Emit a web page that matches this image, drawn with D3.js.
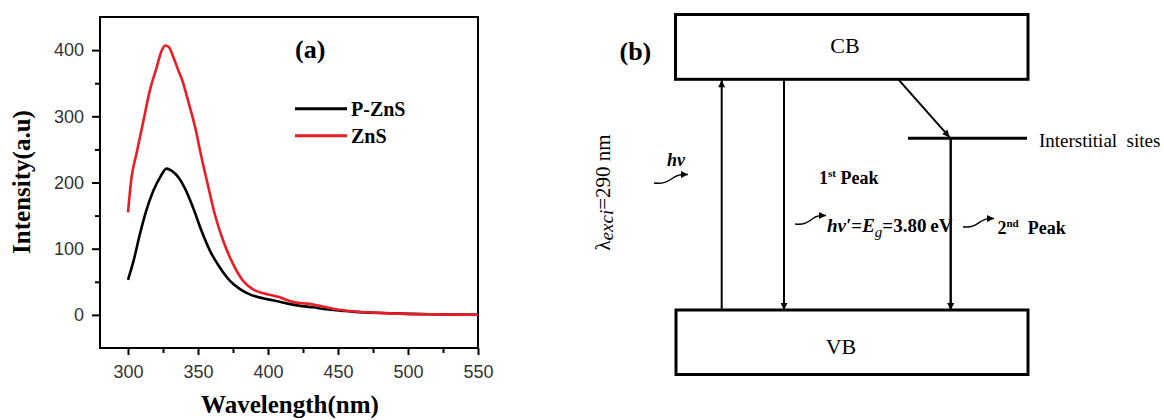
<!DOCTYPE html>
<html>
<head>
<meta charset="utf-8">
<script src="https://cdn.jsdelivr.net/npm/d3@7/dist/d3.min.js"></script>
<style>
  html, body { margin: 0; padding: 0; background: #fff; }
  svg { display: block; }
</style>
</head>
<body>
<svg id="fig" width="1164" height="420"></svg>
<script>
// ---- Photoluminescence spectra (panel a) ----
const wavelengthZnS = [300, 302.5, 306, 311, 315.5, 320.5, 324, 326.5, 329, 332.5, 336, 338.5, 343, 348, 352.5, 357.5, 362, 368, 375, 382, 389, 396, 402, 408, 414, 420, 428, 436, 444, 452, 460, 470, 480, 490, 500, 510, 520, 530, 540, 550];
const intensityZnS  = [155, 207, 243, 293, 338, 374, 399, 407, 405, 389, 369, 356, 323, 283, 238, 192, 152, 112, 77, 52, 39, 33, 30, 27, 22, 18.5, 17, 14, 10.5, 7.5, 5.5, 4, 3, 2, 1.5, 1, 0.8, 0.5, 0.3, 0.2];

const wavelengthPZnS = [300, 304, 308.5, 313, 318, 323, 327.5, 331, 336, 340.5, 346.5, 352.5, 358.5, 365.5, 373, 380, 387, 396.5, 406, 414, 422, 432, 442, 452, 462, 472, 485, 500, 515, 530, 550];
const intensityPZnS  = [53, 82, 122, 157, 187, 208, 221, 218, 208, 192, 162, 127, 97, 72, 51, 39, 31, 25, 21, 17, 14, 11.5, 8.5, 6.5, 4.5, 3.5, 2.5, 1.5, 1, 0.5, 0.2];

const xTicks = [300, 350, 400, 450, 500, 550];
const xMinorTicks = [325, 375, 425, 475, 525];
const yTicks = [0, 100, 200, 300, 400];
const yMinorTicks = [50, 150, 250, 350];

const seriesNames = ["P-ZnS", "ZnS"];
const seriesColors = ["#000000", "#ec1c24"];

// ---- Band diagram labels (panel b) ----
const bandLabels = ["CB", "VB"];
const defectLabel = "Interstitial\u00a0 sites";

const svg = d3.select("#fig");
svg.append("rect").attr("width", 1164).attr("height", 420).attr("fill", "#fff");

// arrowhead marker
const defs = svg.append("defs");
defs.append("marker")
  .attr("id", "head")
  .attr("viewBox", "0 0 10 10")
  .attr("refX", 10).attr("refY", 5)
  .attr("markerWidth", 9).attr("markerHeight", 7)
  .attr("markerUnits", "userSpaceOnUse")
  .attr("orient", "auto")
  .append("path").attr("d", "M0,0 L10,5 L0,10 Z").attr("fill", "#000");

// ================= Panel (a) =================
const x = d3.scaleLinear().domain([280, 550]).range([100, 478]);
const y = d3.scaleLinear().domain([-50, 450]).range([348, 17]);

const pa = svg.append("g");

const tickFont = "'Liberation Sans', Arial, sans-serif";
const serif = "'Liberation Serif', 'Times New Roman', serif";

const xAxis = pa.append("g").attr("transform", `translate(0,${y(-50)})`)
  .call(d3.axisBottom(x).tickValues(xTicks).tickSize(7).tickPadding(10).tickFormat(d3.format("d")));
const xMinor = pa.append("g").attr("transform", `translate(0,${y(-50)})`)
  .call(d3.axisBottom(x).tickValues(xMinorTicks).tickSize(5).tickFormat(""));
const yAxis = pa.append("g").attr("transform", `translate(${x(280)},0)`)
  .call(d3.axisLeft(y).tickValues(yTicks).tickSize(8).tickPadding(8).tickFormat(d3.format("d")));
const yMinor = pa.append("g").attr("transform", `translate(${x(280)},0)`)
  .call(d3.axisLeft(y).tickValues(yMinorTicks).tickSize(5).tickFormat(""));

[xAxis, xMinor, yAxis, yMinor].forEach(g => {
  g.select(".domain").remove();
  g.selectAll(".tick line").attr("stroke", "#000").attr("stroke-width", 2);
  g.selectAll(".tick text").attr("font-family", tickFont).attr("font-size", 18).attr("fill", "#333");
});

// frame
pa.append("rect")
  .attr("x", x(280)).attr("y", y(450))
  .attr("width", x(550) - x(280)).attr("height", y(-50) - y(450))
  .attr("fill", "none").attr("stroke", "#000").attr("stroke-width", 2);

// curves
const line = d3.line().x(d => x(d[0])).y(d => y(d[1])).curve(d3.curveMonotoneX);
const series = [
  d3.zip(wavelengthPZnS, intensityPZnS),
  d3.zip(wavelengthZnS, intensityZnS)
];
series.forEach((s, i) => {
  pa.append("path").datum(s)
    .attr("d", line)
    .attr("fill", "none")
    .attr("stroke", seriesColors[i])
    .attr("stroke-width", 2.6)
    .attr("stroke-linejoin", "round");
});

// legend
seriesNames.forEach((name, i) => {
  const ly = 108.7 + i * 27;
  pa.append("line").attr("x1", 295).attr("x2", 347).attr("y1", ly).attr("y2", ly)
    .attr("stroke", seriesColors[i]).attr("stroke-width", 3);
  pa.append("text").attr("x", 351).attr("y", ly + 7.5)
    .attr("font-family", serif).attr("font-weight", "bold").attr("font-size", 20)
    .text(name);
});

// panel tag and axis titles
pa.append("text").attr("x", 295).attr("y", 58)
  .attr("font-family", serif).attr("font-weight", "bold").attr("font-size", 26).text("(a)");
pa.append("text").attr("x", 290).attr("y", 413).attr("text-anchor", "middle")
  .attr("font-family", serif).attr("font-weight", "bold").attr("font-size", 25).text("Wavelength(nm)");
pa.append("text").attr("transform", "translate(30,182) rotate(-90)").attr("text-anchor", "middle")
  .attr("font-family", serif).attr("font-weight", "bold").attr("font-size", 25).text("Intensity(a.u)");

// ================= Panel (b) =================
const pb = svg.append("g").attr("font-family", serif);

// energy axis of the diagram (CB bottom edge, interstitial level, VB top edge)
const ey = d3.scaleLinear().domain([0, 1]).range([310, 79.3]);
const bandEdges = { cb: 1, defect: 0.745, vb: 0 };

// bands
pb.append("rect").attr("x", 675.5).attr("y", 14.5).attr("width", 352.5).attr("height", ey(bandEdges.cb) - 14.5)
  .attr("fill", "none").attr("stroke", "#000").attr("stroke-width", 3);
pb.append("rect").attr("x", 676).attr("y", ey(bandEdges.vb)).attr("width", 352).attr("height", 374.5 - ey(bandEdges.vb))
  .attr("fill", "none").attr("stroke", "#000").attr("stroke-width", 3);
pb.append("text").attr("x", 845).attr("y", 53.3).attr("text-anchor", "middle").attr("font-size", 22).text(bandLabels[0]);
pb.append("text").attr("x", 841).attr("y", 354).attr("text-anchor", "middle").attr("font-size", 22).text(bandLabels[1]);

// interstitial level
pb.append("line").attr("x1", 908).attr("x2", 1027).attr("y1", ey(bandEdges.defect)).attr("y2", ey(bandEdges.defect))
  .attr("stroke", "#000").attr("stroke-width", 3);
pb.append("text").attr("x", 1039).attr("y", 146.7).attr("font-size", 19).text(defectLabel);

// transitions
const arrow = (x1, y1, x2, y2, w) => pb.append("line")
  .attr("x1", x1).attr("y1", y1).attr("x2", x2).attr("y2", y2)
  .attr("stroke", "#000").attr("stroke-width", w).attr("marker-end", "url(#head)");
arrow(721.7, ey(bandEdges.vb), 721.7, ey(bandEdges.cb) + 1, 2);       // excitation
arrow(784, ey(bandEdges.cb), 784, ey(bandEdges.vb), 2);               // band-edge emission
arrow(898.3, ey(bandEdges.cb), 949.5, ey(bandEdges.defect) - 1, 2);   // relaxation to interstitial sites
arrow(950.7, ey(bandEdges.defect), 950.7, ey(bandEdges.vb), 2.4);     // defect emission

// photon squiggles
const squiggle = (x0, y0, x1, y1) => {
  const dx = x1 - x0, dy = y1 - y0;
  pb.append("path")
    .attr("d", `M${x0},${y0} C${x0 + dx * 0.3},${y0 + 1.5} ${x0 + dx * 0.45},${y0 + dy * 0.3} ${x0 + dx * 0.6},${y0 + dy * 0.7} S${x0 + dx * 0.85},${y1} ${x1},${y1}`)
    .attr("fill", "none").attr("stroke", "#000").attr("stroke-width", 1.4)
    .attr("marker-end", "url(#head)");
};
squiggle(654, 183, 688, 174.5);
squiggle(795, 224, 826, 215.5);
squiggle(963, 226.7, 994, 218.5);

// labels
pb.append("text").attr("x", 619.5).attr("y", 60).attr("font-weight", "bold").attr("font-size", 26).text("(b)");

pb.append("text").attr("x", 667).attr("y", 165.7).attr("font-weight", "bold").attr("font-style", "italic")
  .attr("font-size", 18).text("hν");

const p1 = pb.append("text").attr("x", 819).attr("y", 184).attr("font-weight", "bold").attr("font-size", 18);
p1.append("tspan").text("1");
p1.append("tspan").attr("font-size", 11).attr("dy", -7).text("st");
p1.append("tspan").attr("dy", 7).text(" Peak");

const eg = pb.append("text").attr("x", 827).attr("y", 231.7).attr("font-weight", "bold").attr("font-size", 19);
eg.append("tspan").attr("font-style", "italic").text("hν′");
eg.append("tspan").text("=");
eg.append("tspan").attr("font-style", "italic").text("E");
eg.append("tspan").attr("font-style", "italic").attr("font-weight", "normal").attr("font-size", 15).attr("dy", 5).text("g");
eg.append("tspan").attr("dy", -5).text("=3.80\u2009eV");

const p2 = pb.append("text").attr("x", 997.5).attr("y", 234.3).attr("font-weight", "bold").attr("font-size", 18)
  .attr("xml:space", "preserve").style("white-space", "pre");
p2.append("tspan").text("2");
p2.append("tspan").attr("font-size", 11).attr("dy", -7).text("nd");
p2.append("tspan").attr("dy", 7).text("  Peak");

// excitation wavelength, written vertically
const lam = pb.append("text").attr("transform", "translate(610,192.5) rotate(-90)").attr("text-anchor", "middle")
  .attr("font-size", 21);
lam.append("tspan").text("λ");
lam.append("tspan").attr("font-style", "italic").attr("font-size", 19).attr("dy", 3).text("exci");
lam.append("tspan").attr("dy", -3).text("=290 nm");
</script>
</body>
</html>
